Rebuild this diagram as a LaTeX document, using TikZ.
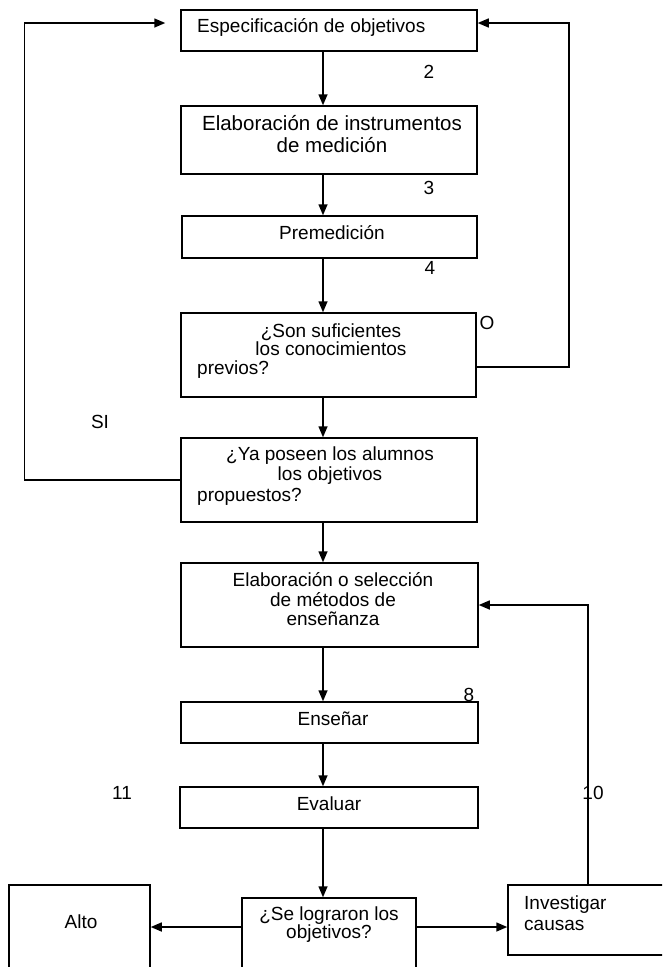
\documentclass[tikz,border=0pt]{standalone}
\usepackage{fontspec}
\setmainfont{Liberation Sans}
\usetikzlibrary{arrows.meta}
\begin{document}
\begin{tikzpicture}[x=1pt,y=-1pt,
  box/.style={draw, line width=1.5pt, inner sep=0pt, rectangle},
  txt/.style={font=\fontsize{19}{22}\selectfont, inner sep=0pt},
  conn/.style={line width=1.5pt, -{Triangle[length=11pt,width=9pt]}}]
\useasboundingbox (0,0) rectangle (662,967);
\fill[white] (0,0) rectangle (662,967);
\clip (0,0) rectangle (662,967);
% boxes
\node[box, minimum width=296pt, minimum height=41pt] (b1) at (329,30.5) {};
\node[box, minimum width=296pt, minimum height=68pt] (b2) at (329,140) {};
\node[box, minimum width=295pt, minimum height=42pt] (b3) at (329.5,237) {};
\node[box, minimum width=295pt, minimum height=84pt] (b4) at (328.5,355) {};
\node[box, minimum width=296pt, minimum height=84pt] (b5) at (329,480) {};
\node[box, minimum width=297pt, minimum height=84pt] (b6) at (329.5,605) {};
\node[box, minimum width=297pt, minimum height=41pt] (b7) at (329.5,722.5) {};
\node[box, minimum width=298pt, minimum height=41pt] (b8) at (329,807.5) {};
\node[box, minimum width=174pt, minimum height=92pt] (q) at (329,944) {};
\node[box, minimum width=141pt, minimum height=105pt] (alto) at (79.5,937.5) {};
\node[box, minimum width=162pt, minimum height=70pt] (inv) at (589,920) {};
% texts
\node[txt, anchor=west] (t1) at (197,27) {Especificación de objetivos};
\node[txt, align=center, font=\fontsize{20.5}{22}\selectfont] (t2) at (332,134) {Elaboración de instrumentos\\de medición};
\node[txt] (t3) at (332,233) {Premedición};
\node[txt, align=center, font=\fontsize{19}{18}\selectfont] (t4a) at (331,340) {¿Son suficientes\\los conocimientos};
\node[txt, anchor=west] (t4b) at (197,370) {previos?};
\node[txt, align=center, font=\fontsize{19}{20}\selectfont] (t5a) at (330,466) {¿Ya poseen los alumnos\\los objetivos};
\node[txt, anchor=west] (t5b) at (197,497) {propuestos?};
\node[txt, align=center, font=\fontsize{19}{19.5}\selectfont] (t6) at (333,599.5) {Elaboración o selección\\de métodos de\\enseñanza};
\node[txt] (t7) at (333,719) {Enseñar};
\node[txt] (t8) at (329,804) {Evaluar};
\node[txt, align=center, font=\fontsize{19}{18}\selectfont] (t9) at (329,925) {¿Se lograron los\\objetivos?};
\node[txt] (t10) at (81,922) {Alto};
\node[txt, align=left, anchor=west, font=\fontsize{19}{21}\selectfont] (t11) at (524,913.5) {Investigar\\causas};
% number labels
\node[txt] (l2) at (429,72) {2};
\node[txt] (l3) at (429,188) {3};
\node[txt] (l4) at (430,268) {4};
\node[txt] (lO) at (487,323) {O};
\node[txt] (lSI) at (100,422) {SI};
\node[txt] (l8) at (469,695) {8};
\node[txt] (l11) at (122,793) {11};
\node[txt] (l10) at (593,793) {10};
% main flow
\draw[conn] ([xshift=-6pt]b1.south) -- ([xshift=-6pt]b2.north);
\draw[conn] ([xshift=-6pt]b2.south) -- ([xshift=-6.5pt]b3.north);
\draw[conn] ([xshift=-6.5pt]b3.south) -- ([xshift=-5.5pt]b4.north);
\draw[conn] ([xshift=-5.5pt]b4.south) -- ([xshift=-6pt]b5.north);
\draw[conn] ([xshift=-6pt]b5.south) -- ([xshift=-6.5pt]b6.north);
\draw[conn] ([xshift=-6.5pt]b6.south) -- ([xshift=-6.5pt]b7.north);
\draw[conn] ([xshift=-6.5pt]b7.south) -- ([xshift=-6pt]b8.north);
\draw[conn] ([xshift=-6pt]b8.south) -- ([xshift=-6pt]b8.south |- q.north);
% loops
\draw[conn, shorten >=15pt] (b5.west) -- ++(-156,0) |- ([yshift=7.5pt]b1.west);
\draw[conn] ([yshift=-12pt]b4.east) -- ++(92,0) |- ([yshift=7.5pt]b1.east);
\draw[conn] ([xshift=-1pt]inv.north) |- (b6.east);
% outcomes
\draw[conn] ([yshift=17pt]q.west) -- ([yshift=17pt]q.west -| alto.east);
\draw[conn] ([yshift=17pt]q.east) -- ([yshift=17pt]q.east -| inv.west);
\end{tikzpicture}
\end{document}
